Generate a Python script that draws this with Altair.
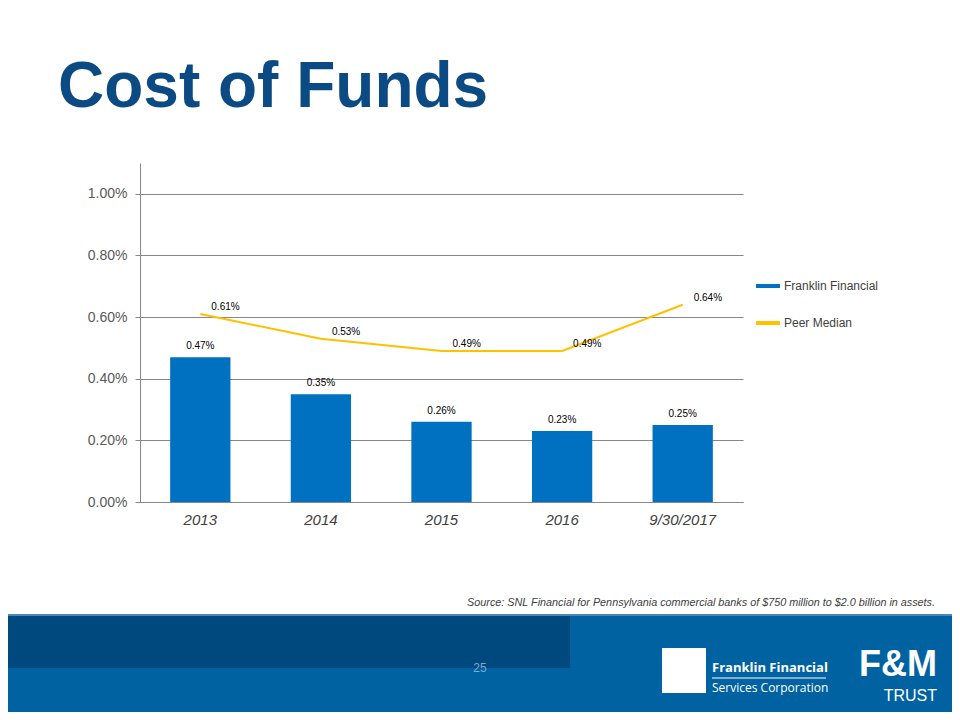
import altair as alt
import pandas as pd

# ---- data ----
categories = ["2013", "2014", "2015", "2016", "9/30/2017"]
franklin_financial = [0.47, 0.35, 0.26, 0.23, 0.25]   # percent
peer_median = [0.61, 0.53, 0.49, 0.49, 0.64]          # percent
series_names = ["Franklin Financial", "Peer Median"]
y_ticks = [0.0, 0.2, 0.4, 0.6, 0.8, 1.0]              # percent

title_text = "Cost of Funds"
source_text = ("Source: SNL Financial for Pennsylvania commercial banks of $750 million "
               "to $2.0 billion in assets.")
page_number = "25"

BLUE = "#0070C0"
GOLD = "#FFC000"
GRID = "#878787"
FONT = "Liberation Sans"

bars_df = pd.DataFrame({
    "period": categories,
    "value": [v / 100 for v in franklin_financial],
    "series": series_names[0],
})
line_df = pd.DataFrame({
    "period": categories,
    "value": [v / 100 for v in peer_median],
    "series": series_names[1],
})

x_enc = alt.X(
    "period:N", sort=categories, title=None,
    scale=alt.Scale(paddingInner=0.5, paddingOuter=0.25),
    axis=alt.Axis(labelAngle=0, labelFontStyle="italic", labelFontSize=15,
                  labelColor="#404040", labelFont=FONT, labelPadding=10,
                  ticks=False, domainColor=GRID, grid=False),
)
y_enc = alt.Y(
    "value:Q", title=None,
    scale=alt.Scale(domain=[0, 0.011], nice=False),
    axis=alt.Axis(values=[t / 100 for t in y_ticks], format=".2%",
                  labelFontSize=14, labelColor="#595959", labelFont=FONT,
                  labelPadding=8, tickSize=5, tickColor=GRID,
                  domainColor=GRID, gridColor=GRID, grid=True),
)
color_enc = alt.Color(
    "series:N", title=None,
    scale=alt.Scale(domain=series_names, range=[BLUE, GOLD]),
    legend=alt.Legend(orient="none", legendX=614, legendY=109, padding=0,
                      symbolType="stroke", symbolStrokeWidth=4, symbolSize=576,
                      labelFontSize=12, labelColor="#404040", labelFont=FONT,
                      labelOffset=2, rowPadding=15),
)

bars = alt.Chart(bars_df).mark_bar().encode(x=x_enc, y=y_enc, color=color_enc)
bar_labels = alt.Chart(bars_df).mark_text(
    baseline="bottom", dy=-6, fontSize=10, font=FONT, color="#000000"
).encode(x=alt.X("period:N", sort=categories), y="value:Q",
         text=alt.Text("value:Q", format=".2%"))

line = alt.Chart(line_df).mark_line(strokeWidth=2, interpolate="linear").encode(
    x=alt.X("period:N", sort=categories), y="value:Q", color=color_enc)
line_labels = alt.Chart(line_df).mark_text(
    align="left", baseline="middle", dx=11, dy=-7, fontSize=10, font=FONT,
    color="#000000"
).encode(x=alt.X("period:N", sort=categories), y="value:Q",
         text=alt.Text("value:Q", format=".2%"))

# ---- slide decoration (title, source, footer band, logos) ----
title = alt.Chart().mark_text(
    text=title_text, align="left", baseline="alphabetic", fontSize=64,
    fontWeight="bold", font=FONT, color="#0B4A82"
).encode(x=alt.value(-82), y=alt.value(-56))

source = alt.Chart().mark_text(
    text=source_text, align="right", baseline="alphabetic", fontSize=10.8,
    fontStyle="italic", font=FONT, color="#404040"
).encode(x=alt.value(795), y=alt.value(443))

band = alt.Chart().mark_rect(color="#0062A0").encode(
    x=alt.value(-132), x2=alt.value(812), y=alt.value(452), y2=alt.value(560))
band_dark = alt.Chart().mark_rect(color="#00497E").encode(
    x=alt.value(-132), x2=alt.value(430), y=alt.value(452), y2=alt.value(505))
band_top = alt.Chart().mark_rule(color="#4A86B8", strokeWidth=2).encode(
    x=alt.value(-132), x2=alt.value(812), y=alt.value(452))

page_num = alt.Chart().mark_text(
    text=page_number, align="center", baseline="alphabetic", fontSize=12,
    font=FONT, color="#7FA8CC"
).encode(x=alt.value(340), y=alt.value(509))

logo_box = alt.Chart().mark_rect(color="#FFFFFF").encode(
    x=alt.value(522), x2=alt.value(566), y=alt.value(485), y2=alt.value(530))
logo_t1 = alt.Chart().mark_text(
    text="Franklin Financial", align="left", baseline="alphabetic", fontSize=13,
    fontWeight="bold", font="Open Sans", color="#FFFFFF"
).encode(x=alt.value(572), y=alt.value(509))
logo_rule = alt.Chart().mark_rule(color="#FFFFFF", strokeWidth=1).encode(
    x=alt.value(572), x2=alt.value(686), y=alt.value(515))
logo_t2 = alt.Chart().mark_text(
    text="Services Corporation", align="left", baseline="alphabetic", fontSize=12,
    font="Open Sans", color="#FFFFFF"
).encode(x=alt.value(572), y=alt.value(529))
fm = alt.Chart().mark_text(
    text="F&M", align="right", baseline="alphabetic", fontSize=36,
    fontWeight="bold", font=FONT, color="#FFFFFF"
).encode(x=alt.value(797), y=alt.value(513))
trust = alt.Chart().mark_text(
    text="TRUST", align="right", baseline="alphabetic", fontSize=16,
    font=FONT, color="#FFFFFF"
).encode(x=alt.value(797), y=alt.value(538))

chart = alt.layer(
    band, band_dark, band_top, page_num, logo_box, logo_t1, logo_rule, logo_t2,
    fm, trust, title, source,
    bars, line, bar_labels, line_labels,
).resolve_scale(color="shared").properties(
    width=603, height=339,
    autosize=alt.AutoSizeParams(type="none"),
    padding={"left": 132, "top": 155, "right": 209, "bottom": 210},
    background="#FFFFFF",
).configure_view(stroke=None)

chart.save("out.html", embed_options={"renderer": "svg", "actions": False})
